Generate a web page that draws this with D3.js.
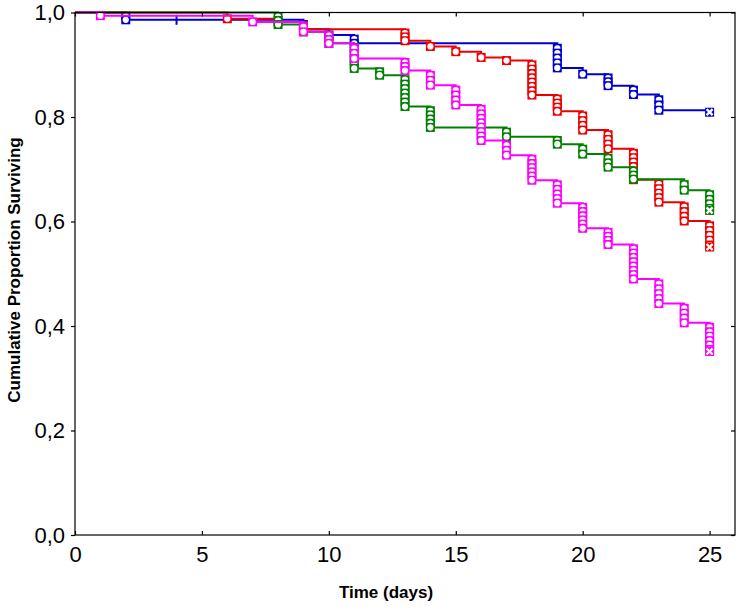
<!DOCTYPE html>
<html>
<head>
<meta charset="utf-8">
<script src="https://cdn.jsdelivr.net/npm/d3@7"></script>
<style>
  body { margin: 0; background: #fff; }
  svg { font-family: "Liberation Sans", Arial, sans-serif; }
</style>
</head>
<body>
<div id="chart"></div>
<script>
// step times (days) and survival after each step
const blueTimes = [2, 9, 10, 11, 19, 20, 21, 22, 23];
const blueSurv  = [0.986, 0.968, 0.957, 0.941, 0.894, 0.882, 0.860, 0.843, 0.813];
const redTimes = [6, 8, 9, 13, 14, 15, 16, 17, 18, 19, 20, 21, 22, 23, 24, 25];
const redSurv  = [0.988, 0.982, 0.968, 0.946, 0.935, 0.925, 0.914, 0.908, 0.842, 0.811, 0.775, 0.739, 0.680, 0.637, 0.601, 0.555];
const greenTimes = [8, 9, 10, 11, 12, 13, 14, 17, 19, 20, 21, 22, 24, 25];
const greenSurv  = [0.977, 0.963, 0.941, 0.893, 0.880, 0.820, 0.780, 0.762, 0.748, 0.729, 0.704, 0.681, 0.660, 0.625];
const magentaTimes = [1, 7, 9, 10, 11, 13, 14, 15, 16, 17, 18, 19, 20, 21, 22, 23, 24, 25];
const magentaSurv  = [0.994, 0.982, 0.963, 0.941, 0.912, 0.889, 0.861, 0.823, 0.755, 0.727, 0.679, 0.635, 0.587, 0.556, 0.490, 0.443, 0.406, 0.355];
// censored observations (tick) inside the follow-up
const blueCensorTimes = [4];
const endTime = 25;

const xTicks = [0, 5, 10, 15, 20, 25];
const yTicks = [0, 0.2, 0.4, 0.6, 0.8, 1.0];

const series = [
    {name: "blue", color: "#0000d4", times: blueTimes, surv: blueSurv, censor: blueCensorTimes},
    {name: "red", color: "#ee0000", times: redTimes, surv: redSurv, censor: []},
    {name: "green", color: "#008000", times: greenTimes, surv: greenSurv, censor: []},
    {name: "magenta", color: "#ff00ff", times: magentaTimes, surv: magentaSurv, censor: []}
];

const W = 742, H = 607;
const x = d3.scaleLinear().domain([0, 26]).range([75, 735]);
const y = d3.scaleLinear().domain([0, 1]).range([535, 12.5]);

const comma = d3.formatLocale({decimal: ",", thousands: ".", grouping: [3], currency: ["", ""]}).format(".1f");

const svg = d3.select("#chart").append("svg")
    .attr("width", W)
    .attr("height", H);

const plot = svg.append("g");

series.forEach(s => {
    // build step points
    const pts = [[0, 1]];
    let prev = 1;
    s.times.forEach((t, i) => {
        pts.push([t, prev]);
        pts.push([t, s.surv[i]]);
        prev = s.surv[i];
    });
    if (s.times[s.times.length - 1] < endTime) pts.push([endTime, prev]);

    const g = plot.append("g").attr("class", "km-" + s.name);
    g.append("path")
        .datum(pts)
        .attr("d", d3.line().x(d => x(d[0])).y(d => y(d[1])))
        .attr("fill", "none")
        .attr("stroke", s.color)
        .attr("stroke-width", 2);

    // event markers stacked along each drop
    let before = 1;
    s.times.forEach((t, i) => {
        const y0 = y(before), y1 = y(s.surv[i]);
        const n = Math.max(1, Math.round((y1 - y0) / 4.5));
        const step = (y1 - y0) / n;
        const cx = x(t);
        for (let k = n - 1; k >= 0; k--) {
            const cy = y1 - k * step;
            g.append("rect")
                .attr("x", cx - 4.5).attr("y", cy - 4.5)
                .attr("width", 9).attr("height", 9)
                .attr("fill", s.color);
            g.append("circle")
                .attr("cx", cx).attr("cy", cy)
                .attr("r", 3.1)
                .attr("fill", "#fff");
        }
        before = s.surv[i];
    });

    // censored ticks
    s.censor.forEach(t => {
        let v = 1;
        s.times.forEach((tt, i) => { if (tt <= t) v = s.surv[i]; });
        g.append("line")
            .attr("x1", x(t)).attr("x2", x(t))
            .attr("y1", y(v) - 5).attr("y2", y(v) + 5)
            .attr("stroke", s.color).attr("stroke-width", 2);
    });

    // censored at end of follow-up
    const ex = x(endTime), ey = y(prev) + 2;
    g.append("rect")
        .attr("x", ex - 4.5).attr("y", ey - 4.5)
        .attr("width", 9).attr("height", 9)
        .attr("fill", s.color);
    g.append("path")
        .attr("d", `M${ex - 3},${ey - 3}L${ex + 3},${ey + 3}M${ex - 3},${ey + 3}L${ex + 3},${ey - 3}`)
        .attr("stroke", "#fff").attr("stroke-width", 2.4);
});

// frame
svg.append("rect")
    .attr("x", x(0)).attr("y", y(1))
    .attr("width", x(26) - x(0)).attr("height", y(0) - y(1))
    .attr("fill", "none").attr("stroke", "#000").attr("stroke-width", 1.2);

svg.append("g")
    .attr("transform", `translate(${x(0)},0)`)
    .call(d3.axisLeft(y).tickValues(yTicks).tickSize(4).tickPadding(6).tickFormat(comma));
svg.append("g")
    .attr("transform", `translate(0,${y(0)})`)
    .call(d3.axisBottom(x).tickValues(xTicks).tickSize(-4).tickPadding(11).tickFormat(d3.format("d")));
// mirror ticks top / right
svg.append("g")
    .attr("transform", `translate(0,${y(1)})`)
    .call(d3.axisTop(x).tickValues(xTicks).tickSize(-4).tickFormat(""));
svg.append("g")
    .attr("transform", `translate(${x(26)},0)`)
    .call(d3.axisRight(y).tickValues(yTicks).tickSize(-4).tickFormat(""));

svg.selectAll(".domain").remove();
svg.selectAll(".tick line").attr("stroke", "#000").attr("stroke-width", 1.2);
svg.selectAll(".tick text").attr("fill", "#000").style("font-size", "22px");

svg.append("text")
    .attr("x", 386).attr("y", 598)
    .attr("text-anchor", "middle")
    .style("font-size", "17px").style("font-weight", "bold")
    .text("Time (days)");
svg.append("text")
    .attr("transform", "translate(20,270) rotate(-90)")
    .attr("text-anchor", "middle")
    .style("font-size", "17px").style("font-weight", "bold")
    .text("Cumulative Proportion Surviving");
</script>
</body>
</html>
